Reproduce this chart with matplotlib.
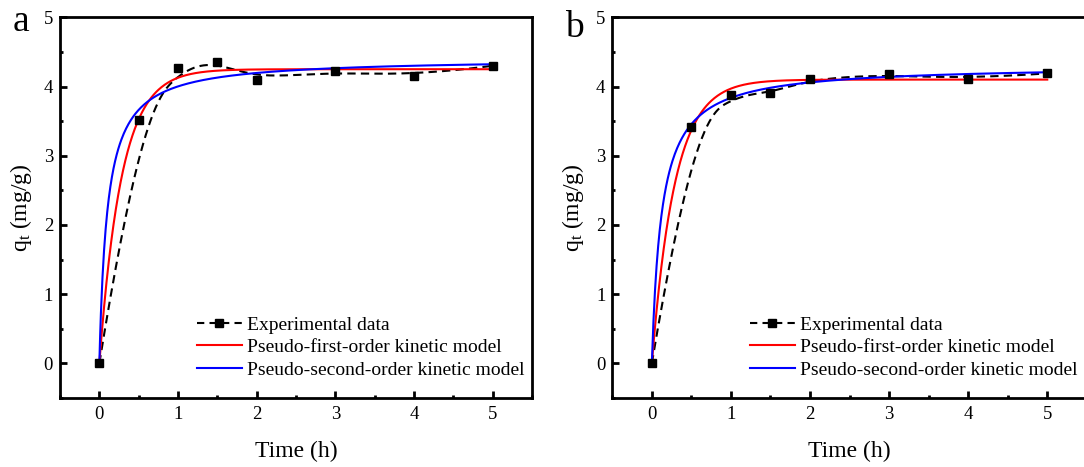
import numpy as np
import matplotlib
matplotlib.use("Agg")
import matplotlib.pyplot as plt
from matplotlib.ticker import MultipleLocator

plt.rcParams['font.family'] = ['Liberation Serif', 'DejaVu Serif']
plt.rcParams['mathtext.fontset'] = 'custom'
plt.rcParams['mathtext.rm'] = 'Liberation Serif'
plt.rcParams['mathtext.it'] = 'Liberation Serif:italic'

# ---- data ----
time_h = [0, 0.5, 1, 1.5, 2, 3, 4, 5]
qt_a = [0.0, 3.52, 4.27, 4.36, 4.10, 4.23, 4.15, 4.30]
qt_b = [0.0, 3.41, 3.88, 3.90, 4.11, 4.18, 4.11, 4.19]

# fitted model parameters
pfo_a = dict(qe=4.25, k1=3.54)
pso_a = dict(qe=4.41, k2=9.8 / 4.41)
pfo_b = dict(qe=4.10, k1=3.45)
pso_b = dict(qe=4.31, k2=8.1 / 4.31)

panel_labels = ['a', 'b']
legend_labels = ['Experimental data', 'Pseudo-first-order kinetic model',
                 'Pseudo-second-order kinetic model']
xticks = [0, 1, 2, 3, 4, 5]
yticks = [0, 1, 2, 3, 4, 5]


def bspline(xs, ys, degree=3, n=400):
    P = np.column_stack([xs, ys]).astype(float)
    m = len(P)
    k = degree
    nint = m - k
    knots = np.concatenate([np.zeros(k), np.arange(nint + 1), np.full(k, nint)]).astype(float)
    u = np.linspace(0, nint, n)
    u[-1] -= 1e-9

    def N(i, p, uu):
        if p == 0:
            return ((knots[i] <= uu) & (uu < knots[i + 1])).astype(float)
        a = np.zeros_like(uu)
        d1 = knots[i + p] - knots[i]
        if d1 > 0:
            a += (uu - knots[i]) / d1 * N(i, p - 1, uu)
        d2 = knots[i + p + 1] - knots[i + 1]
        if d2 > 0:
            a += (knots[i + p + 1] - uu) / d2 * N(i + 1, p - 1, uu)
        return a

    B = np.array([N(i, k, u) for i in range(m)])
    C = B.T @ P
    return C[:, 0], C[:, 1]


fig = plt.figure(figsize=(10.84, 4.67), dpi=100)
W, H = 1084, 467
ax_a = fig.add_axes([60 / W, 1 - 398 / H, 472 / W, (398 - 17.3) / H])
ax_b = fig.add_axes([612.3 / W, 1 - 398 / H, 474.5 / W, (398 - 17.3) / H])

tt = np.linspace(0, 5, 500)
for ax, q, pfo, pso, lab, lx, lby in [
        (ax_a, qt_a, pfo_a, pso_a, 'a', 13, 31),
        (ax_b, qt_b, pfo_b, pso_b, 'b', 565, 37)]:
    bx, by = bspline(time_h, q)
    ax.plot(bx, by, color='black', lw=1.5, ls=(0, (4, 2.5)), zorder=2)
    ax.plot(time_h, q, ls='none', marker='s', ms=6, color='black', zorder=4)
    h0, = ax.plot([], [], color='black', lw=1.5, ls=(0, (3.5, 2.5)), marker='s', ms=6)
    y1 = pfo['qe'] * (1 - np.exp(-pfo['k1'] * tt))
    y2 = pso['k2'] * pso['qe'] ** 2 * tt / (1 + pso['k2'] * pso['qe'] * tt)
    h1, = ax.plot(tt, y1, color='#ff0000', lw=1.5, zorder=3)
    h2, = ax.plot(tt, y2, color='#0000ff', lw=1.5, zorder=3)

    ax.set_xlim(-0.5, 5.5)
    ax.set_ylim(-0.5, 5)
    ax.set_xticks(xticks)
    ax.set_yticks(yticks)
    ax.xaxis.set_minor_locator(MultipleLocator(0.5))
    ax.yaxis.set_minor_locator(MultipleLocator(0.5))
    ax.tick_params(which='both', direction='in', top=False, right=False,
                   width=2, labelsize=13.5)
    ax.tick_params(which='major', length=5)
    ax.tick_params(which='minor', length=2.5)
    ax.tick_params(axis='x', pad=6)
    ax.tick_params(axis='y', pad=5)
    for s in ax.spines.values():
        s.set_linewidth(2)
    ax.set_xlabel('Time (h)', fontsize=17)
    ax.xaxis.set_label_coords(0.5, -0.112)
    ax.set_ylabel(r'q$_\mathregular{t}$ (mg/g)', fontsize=17)
    ax.yaxis.set_label_coords(-0.056, 0.5)
    ax.legend([h0, h1, h2], legend_labels, loc='upper left',
              bbox_to_anchor=(0.29, 0.215), frameon=False, fontsize=14,
              borderpad=0, borderaxespad=0, handlelength=2.3,
              handletextpad=0.3, labelspacing=0.25, numpoints=1)
    fig.text(lx / W, 1 - lby / H, lab, fontsize=27, va='baseline', ha='left')

fig.savefig('out.png', dpi=100)
